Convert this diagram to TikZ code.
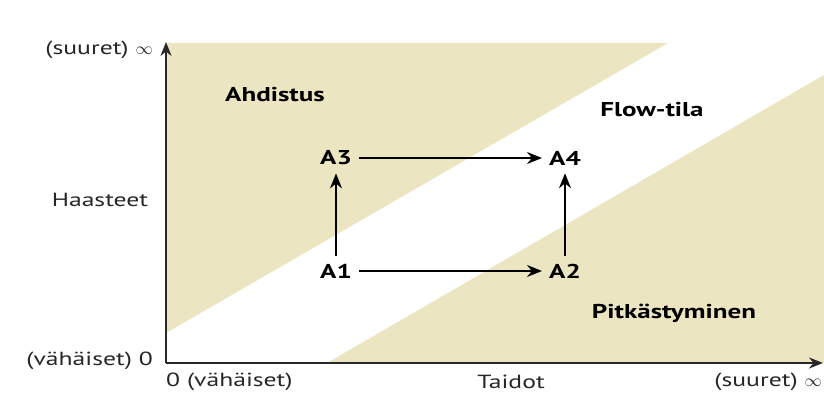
\documentclass[tikz,border=0pt]{standalone}
\usepackage{fontspec}
\setmainfont[FakeStretch=1.35]{PT Sans}
\usepackage{tikz}
\usetikzlibrary{arrows.meta}

\definecolor{hiekka}{RGB}{236,229,193}
\definecolor{akselinvari}{RGB}{40,40,40}

\begin{document}
\begin{tikzpicture}[
        x=1pt, y=-1pt,
        every node/.style={font=\fontsize{19}{22}\selectfont, inner sep=0pt},
        alue/.style={fill=hiekka, draw=none},
        akseli/.style={draw=akselinvari, line width=2pt,
                       -{Stealth[length=14pt,width=11pt]}},
        selite/.style={text=black!85},
        tila/.style={font=\fontsize{20}{23}\selectfont\bfseries},
        vaihe/.style={font=\fontsize{20}{23}\selectfont\bfseries,
                      inner xsep=7pt, inner ysep=8pt},
        nuoli/.style={draw=black, line width=1.6pt,
                      -{Stealth[length=15pt,width=12pt]}}
    ]
        \useasboundingbox (0,0) rectangle (824,396);

        % tausta-alueet
        \fill[alue] (166,43) -- (668,43) -- (166,333) -- cycle;
        \fill[alue] (327,363) -- (824,75) -- (824,363) -- cycle;

        % akselit
        \coordinate (origo) at (166,363);
        \coordinate (ykarki) at (166,42);
        \coordinate (xkarki) at (823,363);
        \draw[akseli] (origo) -- (ykarki);
        \draw[akseli] (origo) -- (xkarki);

        \node[selite, anchor=east] (ymax) at (153,50) {(suuret) $\infty$};
        \node[selite]              (ynimi) at (100,200) {Haasteet};
        \node[selite, anchor=east] (ymin) at (153,361) {(vähäiset) 0};
        \node[selite, anchor=west] (xmin) at (166,382) {0 (vähäiset)};
        \node[selite]              (xnimi) at (511,382) {Taidot};
        \node[selite, anchor=east] (xmax) at (822,382) {(suuret) $\infty$};

        \node[tila] (ahd)  at (275,95)  {Ahdistus};
        \node[tila] (flow) at (652,110) {Flow-tila};
        \node[tila] (pitk) at (674,313) {Pitkästyminen};

        \node[vaihe] (a1) at (336,271) {A1};
        \node[vaihe] (a2) at (565,271) {A2};
        \node[vaihe] (a3) at (336,158) {A3};
        \node[vaihe] (a4) at (565,158) {A4};

        \draw[nuoli] (a1) -- (a2);
        \draw[nuoli] (a1) -- (a3);
        \draw[nuoli] (a3) -- (a4);
        \draw[nuoli] (a2) -- (a4);
    \end{tikzpicture}
\end{document}
